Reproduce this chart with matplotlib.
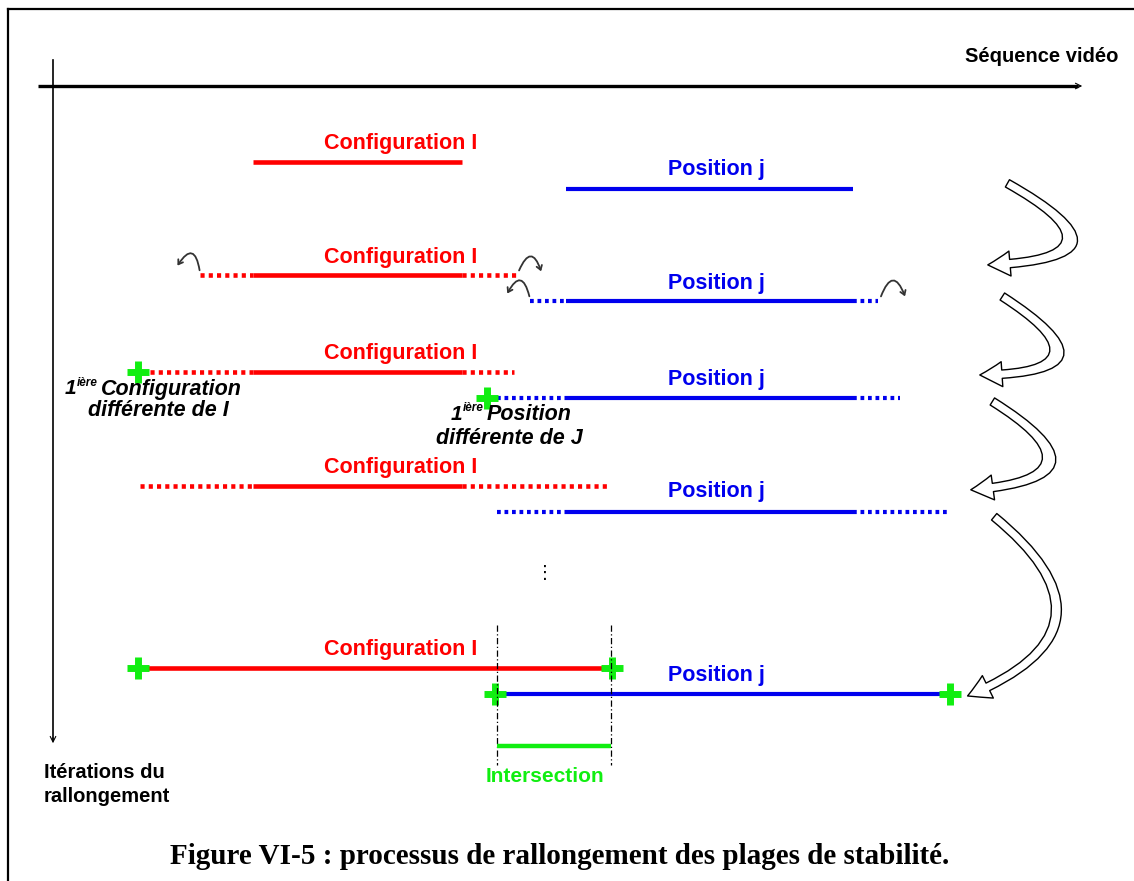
import matplotlib
matplotlib.use("Agg")
import matplotlib.pyplot as plt
from matplotlib.patches import FancyArrowPatch

RED = "#ff0000"
BLUE = "#0000ee"
GREEN = "#11ee11"

# rows of the diagram: (y of line, label y, dotted left, solid start, solid end, dotted right)
config_rows = [
    (162, 144, None, 253, 462, None),
    (275, 257, 200, 253, 462, 518),
    (372, 354, 150, 253, 462, 514),
    (486, 467, 140, 253, 462, 610),
    (668, 650, None, 138, 612, None),
]
position_rows = [
    (189, 170, None, 566, 853, None),
    (301, 283, 530, 566, 853, 878),
    (398, 379, 497, 566, 853, 900),
    (512, 492, 497, 566, 853, 948),
    (694, 675, None, 495, 950, None),
]
config_label_x = 401
position_label_x = 716

# green "+" markers
plus_x = [138, 487, 138, 612, 495, 950]
plus_y = [372, 398, 668, 668, 694, 694]

# intersection
inter_x = [497, 611]
inter_y = 746

# small curl arrows: (x0, y0, x1, y1, rad)
curls = [
    (200, 273, 176, 268, 1.4),
    (518, 273, 542, 274, -1.4),
    (530, 299, 506, 296, 1.4),
    (880, 299, 906, 299, -1.4),
]

# big hollow arrows on the right: (x0, y0, x1, y1, rad)
big_arrows = [
    (1005, 182, 985, 265, -1.8),
    (1000, 295, 977, 375, -1.7),
    (990, 400, 968, 490, -1.55),
    (992, 515, 965, 697, -0.85),
]

fig = plt.figure(figsize=(11.34, 8.81), dpi=100)
ax = fig.add_axes([0, 0, 1, 1])
ax.set_xlim(0, 1134)
ax.set_ylim(881, 0)
ax.axis("off")

# frame
ax.plot([8, 1134], [9, 9], color="black", lw=1.6)
ax.plot([8, 8], [9, 881], color="black", lw=1.6)

# axes of the diagram
ax.plot([38, 1078], [86, 86], color="black", lw=2.4, solid_capstyle="butt")
ax.annotate("", xy=(1085, 86), xytext=(1070, 86),
            arrowprops=dict(arrowstyle="->", color="black", lw=0.8))
ax.plot([53, 53], [60, 740], color="black", lw=1.2)
ax.annotate("", xy=(53, 746), xytext=(53, 735),
            arrowprops=dict(arrowstyle="->", color="black", lw=0.8))
ax.text(1118, 57, "Séquence vidéo", ha="right", va="center", fontsize=14.5,
        fontweight="bold", family="Liberation Sans")
ax.text(44, 772, "Itérations du", ha="left", va="center", fontsize=14.5,
        fontweight="bold", family="Liberation Sans")
ax.text(44, 797, "rallongement", ha="left", va="center", fontsize=14.5,
        fontweight="bold", family="Liberation Sans")


def draw_row(row, color, label, label_x, lw, fs):
    y, ly, dl, s0, s1, dr = row
    ax.plot([s0, s1], [y, y], color=color, lw=lw, solid_capstyle="butt")
    if dl is not None:
        ax.plot([dl, s0], [y, y], color=color, lw=lw, dashes=(0.9, 0.9),
                dash_capstyle="butt")
    if dr is not None:
        ax.plot([s1, dr], [y, y], color=color, lw=lw, dashes=(0.9, 0.9),
                dash_capstyle="butt")
    ax.text(label_x, ly, label, color=color, ha="center", va="center",
            fontsize=fs, fontweight="bold", family="Liberation Sans")


for row in config_rows:
    draw_row(row, RED, "Configuration I", config_label_x, 3.3, 15.5)
for row in position_rows:
    draw_row(row, BLUE, "Position j", position_label_x, 3.0, 15.5)

ax.plot(plus_x, plus_y, ls="none", marker="+", ms=16, mew=5, color=GREEN)

# intersection
for x in inter_x:
    ax.plot([x, x], [625, 765], color="black", lw=0.9, ls=(0, (5, 2, 1, 2)))
ax.plot(inter_x, [inter_y, inter_y], color=GREEN, lw=3.2, solid_capstyle="butt")
ax.text(545, 776, "Intersection", color=GREEN, ha="center",
        va="center", fontsize=15, fontweight="bold", family="Liberation Sans")

# vertical dots
ax.text(545, 573, "\u22ee", ha="center", va="center", fontsize=13, color="black")

# annotations about first different element
ax.text(76, 389, "1", ha="right", va="center", fontsize=15, fontweight="bold",
        style="italic", family="Liberation Sans")
ax.text(77, 383, "ière", ha="left", va="center", fontsize=8.5, fontweight="bold",
        style="italic", family="Liberation Sans")
ax.text(101, 389, "Configuration", ha="left", va="center", fontsize=15.5,
        fontweight="bold", style="italic", family="Liberation Sans")
ax.text(158, 411, "différente de I", ha="center", va="center", fontsize=15.5,
        fontweight="bold", style="italic", family="Liberation Sans")

ax.text(462, 414, "1", ha="right", va="center", fontsize=15, fontweight="bold",
        style="italic", family="Liberation Sans")
ax.text(463, 408, "ière", ha="left", va="center", fontsize=8.5, fontweight="bold",
        style="italic", family="Liberation Sans")
ax.text(487, 414, "Position", ha="left", va="center", fontsize=15.5,
        fontweight="bold", style="italic", family="Liberation Sans")
ax.text(509, 438, "différente de J", ha="center", va="center", fontsize=15.5,
        fontweight="bold", style="italic", family="Liberation Sans")

# small curl arrows
for x0, y0, x1, y1, rad in curls:
    ax.add_patch(FancyArrowPatch((x0, y0), (x1, y1),
                                 connectionstyle=f"arc3,rad={rad}",
                                 arrowstyle="->,head_length=3,head_width=2",
                                 color="#333333", lw=1.3))

# big hollow arrows
for x0, y0, x1, y1, rad in big_arrows:
    ax.add_patch(FancyArrowPatch((x0, y0), (x1, y1),
                                 connectionstyle=f"arc3,rad={rad}",
                                 arrowstyle="simple,head_length=16,head_width=18,tail_width=6",
                                 facecolor="white", edgecolor="black", lw=1.0))

# caption
ax.text(560, 856, "Figure VI-5 : processus de rallongement des plages de stabilité.",
        ha="center", va="center", fontsize=21, fontweight="bold",
        family="Liberation Serif")

fig.savefig("out.png", dpi=100)
